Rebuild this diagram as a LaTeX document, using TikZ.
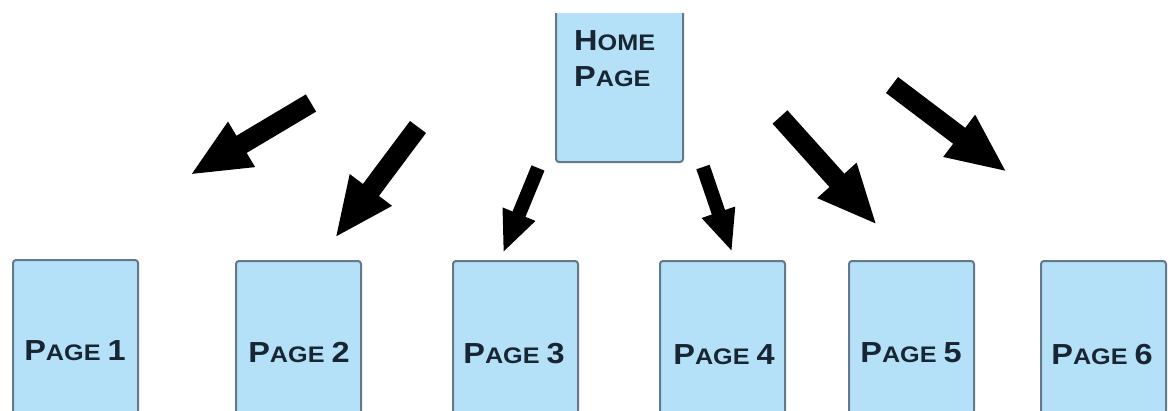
\documentclass[tikz,border=0pt]{standalone}
\usepackage{fontspec}
\setmainfont{Liberation Sans}[FakeStretch=1.12]
\usetikzlibrary{arrows.meta}
\definecolor{boxfill}{RGB}{181,225,248}
\definecolor{boxline}{RGB}{100,122,138}
\definecolor{txt}{RGB}{24,38,52}
\newcommand{\bigc}[1]{{\fontsize{29}{29}\selectfont #1}}
\newcommand{\smlc}[1]{{\fontsize{22.5}{22.5}\selectfont #1}}
\newcommand{\pglabel}[1]{\bigc{P}\smlc{AGE}\hspace{7pt}\bigc{#1}}
\tikzset{
  pagebox/.style={draw=boxline, fill=boxfill, line width=2pt, rounded corners=3pt,
    minimum width=125pt, minimum height=170pt, inner sep=0pt, anchor=north west},
  homebox/.style={draw=boxline, fill=boxfill, line width=2pt, rounded corners=3pt,
    minimum width=127pt, minimum height=175pt, inner sep=0pt, anchor=south west},
  lbl/.style={font=\bfseries, text=txt, inner sep=0pt},
  bigarrow/.style={line width=20pt, -{Triangle[length=60pt,width=48pt]}},
  smallarrow/.style={line width=14pt, -{Triangle[length=42pt,width=32pt]}}
}
\begin{document}
\begin{tikzpicture}[x=1pt,y=-1pt]
\useasboundingbox (0,0) rectangle (1168,410);
\fill[white] (0,0) rectangle (1168,410);
\clip (0,0) rectangle (1168,410);

% Home page
\begin{scope}
\clip (0,13) rectangle (1168,410);
\node[homebox] (home) at (555,163) {};
\end{scope}
\node[lbl, anchor=base west] (homel1) at (574,50) {\bigc{H}\smlc{OME}};
\node[lbl, anchor=base west] (homel2) at (574,86) {\bigc{P}\smlc{AGE}};

% Pages
\node[pagebox] (p1) at (12,259) {};
\node[pagebox] (p2) at (235,260) {};
\node[pagebox] (p3) at (452,260) {};
\node[pagebox] (p4) at (659,260) {};
\node[pagebox] (p5) at (848,260) {};
\node[pagebox] (p6) at (1040,260) {};

\node[lbl, anchor=base] (l1) at (75,360) {\pglabel{1}};
\node[lbl, anchor=base] (l2) at (299,362) {\pglabel{2}};
\node[lbl, anchor=base] (l3) at (514,363) {\pglabel{3}};
\node[lbl, anchor=base] (l4) at (724,364) {\pglabel{4}};
\node[lbl, anchor=base] (l5) at (911,362) {\pglabel{5}};
\node[lbl, anchor=base] (l6) at (1102,364) {\pglabel{6}};

% Arrows
\coordinate (a1s) at (311,103); \coordinate (a1e) at (190,175);
\coordinate (a2s) at (418,127); \coordinate (a2e) at (335,238);
\coordinate (a3s) at (538,168); \coordinate (a3e) at (503,253);
\coordinate (a4s) at (703,167); \coordinate (a4e) at (732,252);
\coordinate (a5s) at (780,117); \coordinate (a5e) at (877,225);
\coordinate (a6s) at (892,85);  \coordinate (a6e) at (1007,172);

\draw[bigarrow] (a1s) -- (a1e);
\draw[bigarrow] (a2s) -- (a2e);
\draw[smallarrow] (a3s) -- (a3e);
\draw[smallarrow] (a4s) -- (a4e);
\draw[bigarrow] (a5s) -- (a5e);
\draw[bigarrow] (a6s) -- (a6e);
\end{tikzpicture}
\end{document}
